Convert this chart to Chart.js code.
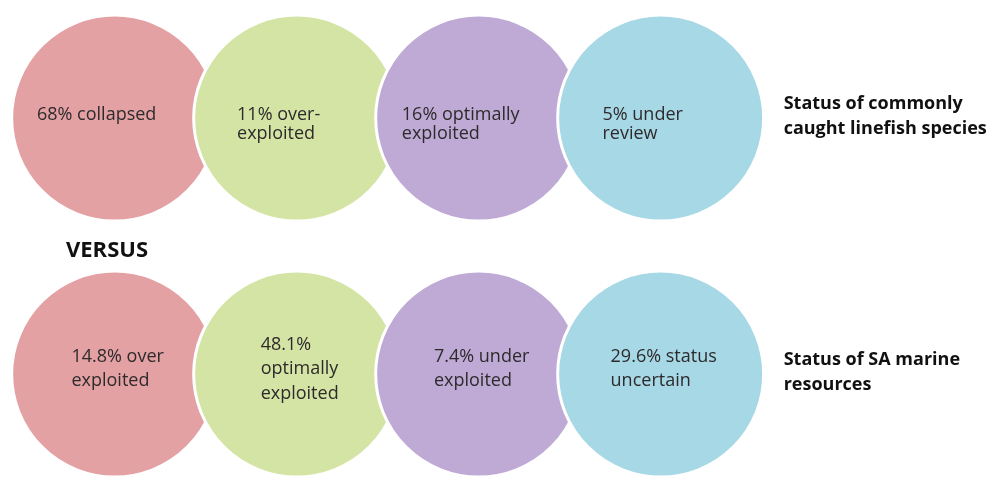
<!DOCTYPE html>
<html>
<head>
<meta charset="utf-8">
<script src="https://cdn.jsdelivr.net/npm/chart.js@4.4.1/dist/chart.umd.min.js"></script>
<style>
  html, body { margin: 0; padding: 0; background: #fff; }
  #wrap { position: relative; width: 991px; height: 477px; }
</style>
</head>
<body>
<div id="wrap"><canvas id="circles"></canvas></div>
<script>
// stock status shares (percent) per group
const rowTitles = [['Status of commonly', 'caught linefish species'], ['Status of SA marine', 'resources']];
const linefishValues = [68, 11, 16, 5];
const linefishLabels = [['68% collapsed', ''], ['11% over-', 'exploited'], ['16% optimally', 'exploited'], ['5% under', 'review']];
const marineValues = [14.8, 48.1, 7.4, 29.6];
const marineLabels = [['14.8% over', 'exploited'], ['48.1%', 'optimally', 'exploited'], ['7.4% under', 'exploited'], ['29.6% status', 'uncertain']];
const circleColors = ['#e3a1a4', '#d4e4a4', '#bfaad5', '#a7d8e6'];
const dividerText = 'VERSUS';

const CIRCLE_R = 103;
const FONT = '"Open Sans", "Noto Sans", sans-serif';

const toPoints = (values, row) => values.map((v, i) => ({ x: i, y: row, r: CIRCLE_R, value: v }));

// per-row text layout: horizontal shift, vertical shift, line height
const rowText = [
    { labels: linefishLabels, dx: -18, dy: 6, lh: 19 },
    { labels: marineLabels, dx: 3, dy: -5, lh: 24.5 }
];

const labelPlugin = {
    id: 'circleLabels',
    afterDatasetsDraw(chart) {
        const ctx = chart.ctx;
        ctx.save();
        ctx.textBaseline = 'middle';
        ctx.textAlign = 'left';
        chart.data.datasets.forEach((ds, row) => {
            const meta = chart.getDatasetMeta(row);
            const cfg = rowText[row];
            ctx.font = '18px ' + FONT;
            ctx.fillStyle = '#2e2a2c';
            meta.data.forEach((el, i) => {
                const lines = cfg.labels[i];
                const w = Math.max(...lines.map(l => ctx.measureText(l).width));
                const x0 = el.x - w / 2 + cfg.dx;
                const y0 = el.y + cfg.dy - (lines.length - 1) * cfg.lh / 2;
                lines.forEach((l, k) => ctx.fillText(l, x0, y0 + k * cfg.lh));
            });
            // group title to the right of the last circle
            const last = meta.data[meta.data.length - 1];
            ctx.font = 'bold 18px ' + FONT;
            ctx.fillStyle = '#111';
            const title = rowTitles[row];
            const ty = last.y - 2 - (title.length - 1) * 25 / 2;
            title.forEach((l, k) => ctx.fillText(l, last.x + CIRCLE_R + 20, ty + k * 25));
        });
        // divider between the two rows
        const first = chart.getDatasetMeta(1).data[0];
        ctx.font = 'bold 22px ' + FONT;
        ctx.fillStyle = '#111';
        ctx.fillText(dividerText, 66, (chart.getDatasetMeta(0).data[0].y + first.y) / 2 + 5);
        ctx.restore();
    }
};

new Chart(document.getElementById('circles').getContext('2d'), {
    type: 'bubble',
    data: {
        datasets: [
            { label: 'Linefish', data: toPoints(linefishValues, 0), backgroundColor: circleColors, borderColor: '#fff', borderWidth: 3, clip: false },
            { label: 'Marine resources', data: toPoints(marineValues, 1), backgroundColor: circleColors, borderColor: '#fff', borderWidth: 3, clip: false }
        ]
    },
    options: {
        responsive: true,
        maintainAspectRatio: false,
        animation: false,
        layout: { padding: 0, autoPadding: false },
        plugins: { legend: { display: false }, tooltip: { enabled: false } },
        scales: {
            x: { type: 'linear', display: false, min: -0.63, max: 4.815 },
            y: { type: 'linear', display: false, reverse: true, min: -0.461, max: 1.402 }
        }
    },
    plugins: [labelPlugin]
});
</script>
</body>
</html>
